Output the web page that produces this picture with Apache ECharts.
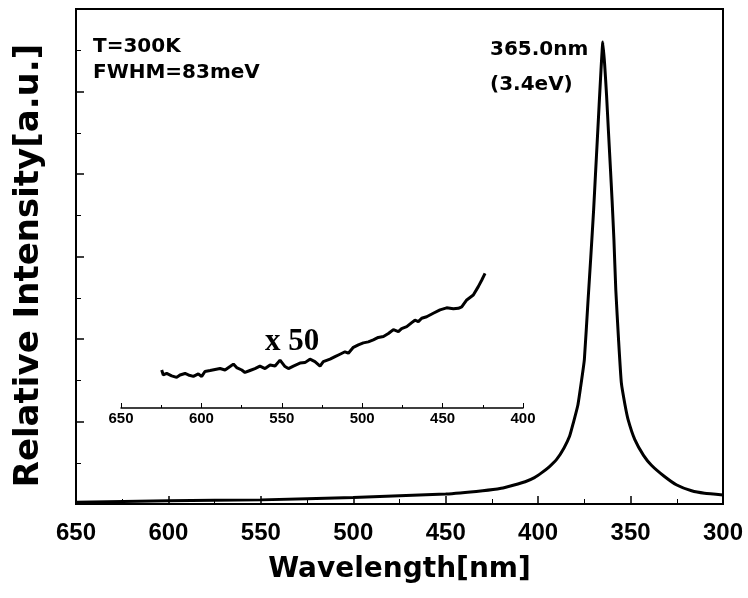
<!DOCTYPE html>
<html>
<head>
<meta charset="utf-8">
<script src="https://cdn.jsdelivr.net/npm/echarts@6/dist/echarts.min.js"></script>
<style>
  html, body { margin: 0; padding: 0; background: #fff; }
  #chart { width: 748px; height: 598px; }
</style>
</head>
<body>
<div id="chart"></div>
<script>
// main PL spectrum (wavelength nm, relative intensity)
var wavelength = [650, 600, 550, 500, 450, 430, 420, 413, 407, 402, 398, 394, 390, 386, 383, 381, 378.5, 376.5, 375, 373, 371.5, 370, 369, 368, 367, 366, 365,
  364, 363, 362, 361, 360, 359, 358, 356.5, 355, 353, 351.3, 347.7, 343, 338.7, 332, 325, 317, 310, 300]
var intensity = [0.02, 0.04, 0.05, 0.08, 0.12, 0.16, 0.19, 0.23, 0.27, 0.32, 0.38, 0.45, 0.54, 0.68, 0.82, 0.98, 1.2, 1.5, 1.75, 2.47, 3.0, 3.56, 3.99, 4.41, 4.84, 5.26, 5.6,
  5.32, 4.96, 4.53, 4.11, 3.68, 3.2, 2.6, 1.99, 1.47, 1.2, 1.02, 0.78, 0.59, 0.47, 0.34, 0.23, 0.16, 0.13, 0.11]

// inset, tail magnified x50
var insetWavelength = [624.7, 623.7, 621.6, 618.5, 615.4, 613.3, 610.2, 608.1, 605.0, 601.9, 599.8, 597.8, 594.6, 591.5, 588.4, 585.3, 582.2, 580.1,
  578.1, 574.9, 572.9, 569.8, 566.7, 563.6, 560.4, 557.3, 554.2, 551.1, 548.0, 545.9, 542.8, 538.7, 535.6, 532.5, 529.4, 526.2, 524.2, 520.0,
  516.9, 513.8, 510.7, 508.6, 505.5, 502.4, 499.3, 496.2, 493.1, 490.0, 486.8, 483.7, 480.6, 477.5, 475.5, 472.3, 469.2, 467.2, 465.1, 463.0,
  459.9, 455.8, 451.6, 447.5, 443.3, 440.2, 438.1, 435.0, 430.9, 427.8, 425.7, 423.6]
var insetIntensity = [0.77, 0.67, 0.70, 0.65, 0.62, 0.67, 0.70, 0.67, 0.64, 0.69, 0.64, 0.74, 0.76, 0.78, 0.80, 0.77, 0.84, 0.89,
  0.82, 0.77, 0.72, 0.76, 0.80, 0.85, 0.80, 0.87, 0.85, 0.97, 0.84, 0.80, 0.85, 0.91, 0.92, 0.99, 0.94, 0.85, 0.94, 0.99,
  1.04, 1.09, 1.14, 1.11, 1.23, 1.28, 1.32, 1.34, 1.38, 1.43, 1.45, 1.51, 1.59, 1.55, 1.61, 1.65, 1.73, 1.78, 1.75, 1.82,
  1.85, 1.92, 1.99, 2.03, 2.01, 2.02, 2.05, 2.19, 2.29, 2.46, 2.59, 2.73]

var xTicks = [650, 300, 50]       // min, max, step of main axis
var insetTicks = [650, 400, 50]
var notes = ['T=300K', 'FWHM=83meV', '365.0nm', '(3.4eV)', 'x 50']

var mainData = wavelength.map(function (w, i) { return [w, intensity[i]] })
var insetData = insetWavelength.map(function (w, i) { return [w, insetIntensity[i]] })

var chart = echarts.init(document.getElementById('chart'))
var tickFont = { fontFamily: 'Liberation Sans', fontWeight: 'bold', color: '#000' }
var noteStyle = function (txt, x, y, size, family) {
  return {
    type: 'text', left: x, top: y,
    style: { text: txt, font: 'bold ' + size + 'px ' + family, fill: '#000' }
  }
}

var option = {
  animation: false,
  backgroundColor: '#fff',
  grid: [
    { left: 76, right: 25, top: 9, bottom: 94, show: true, borderColor: '#000', borderWidth: 2 },
    { left: 121, right: 225, top: 260, bottom: 190 }
  ],
  xAxis: [
    {
      type: 'value', gridIndex: 0, min: xTicks[1], max: xTicks[0], interval: xTicks[2], inverse: true,
      axisLine: { lineStyle: { color: '#000', width: 2 } },
      axisTick: { inside: true, length: 8, lineStyle: { color: '#000', width: 1.5 } },
      minorTick: { show: true, splitNumber: 2, length: 5, lineStyle: { color: '#000' } },
      splitLine: { show: false },
      axisLabel: Object.assign({ fontSize: 24, margin: 17 }, tickFont),
      name: 'Wavelength[nm]', nameLocation: 'middle', nameGap: 52,
      nameTextStyle: { fontFamily: 'DejaVu Sans', fontWeight: 'bold', fontSize: 28, color: '#000' }
    },
    {
      type: 'value', gridIndex: 1, min: insetTicks[1], max: insetTicks[0], interval: insetTicks[2], inverse: true,
      axisLine: { lineStyle: { color: '#000', width: 1.5 } },
      axisTick: { inside: true, length: 5, lineStyle: { color: '#000' } },
      minorTick: { show: true, splitNumber: 2, length: 3, lineStyle: { color: '#000' } },
      splitLine: { show: false },
      axisLabel: Object.assign({ fontSize: 15, margin: 3 }, tickFont)
    }
  ],
  yAxis: [
    {
      type: 'value', gridIndex: 0, min: 0, max: 6, interval: 1,
      axisLine: { lineStyle: { color: '#000', width: 2 } },
      axisTick: { inside: true, length: 8, lineStyle: { color: '#000', width: 1.5 } },
      minorTick: { show: true, splitNumber: 2, length: 5, lineStyle: { color: '#000' } },
      splitLine: { show: false },
      axisLabel: { show: false },
      name: 'Relative Intensity[a.u.]', nameLocation: 'middle', nameGap: 30,
      nameTextStyle: { fontFamily: 'DejaVu Sans', fontWeight: 'bold', fontSize: 34, color: '#000', padding: [0, 18, 0, 0] }
    },
    { type: 'value', gridIndex: 1, min: 0, max: 3, show: false }
  ],
  series: [
    {
      type: 'line', xAxisIndex: 0, yAxisIndex: 0, data: mainData, showSymbol: false, smooth: 0.15,
      lineStyle: { color: '#000', width: 3 }
    },
    {
      type: 'line', xAxisIndex: 1, yAxisIndex: 1, data: insetData, showSymbol: false,
      lineStyle: { color: '#000', width: 3 }
    }
  ],
  graphic: [
    noteStyle(notes[0], 93, 37, 20, 'DejaVu Sans'),
    noteStyle(notes[1], 93, 63, 20, 'DejaVu Sans'),
    noteStyle(notes[2], 490, 40, 20, 'DejaVu Sans'),
    noteStyle(notes[3], 490, 75, 20, 'DejaVu Sans'),
    noteStyle(notes[4], 265, 326, 31, 'Liberation Serif')
  ]
}
chart.setOption(option)
</script>
</body>
</html>
